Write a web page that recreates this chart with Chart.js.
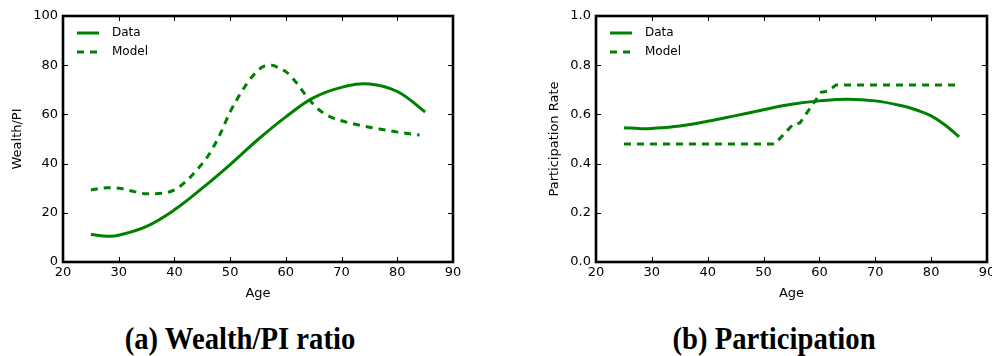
<!DOCTYPE html>
<html>
<head>
<meta charset="utf-8">
<script src="https://cdn.jsdelivr.net/npm/chart.js@4.4.0/dist/chart.umd.min.js"></script>
<style>
    html, body { margin: 0; padding: 0; background: #fff; width: 992px; height: 356px; overflow: hidden; }
    canvas { position: absolute; top: 0; }
    .caption {
        position: absolute; top: 322px; height: 34px; line-height: 34px;
        font: bold 28.7px "Liberation Serif", "Times New Roman", serif;
        text-align: center; color: #000; white-space: nowrap;
        transform: scaleY(1.08);
    }
</style>
</head>
<body>
<canvas id="wealth" width="490" height="310" style="left:0"></canvas>
<canvas id="part" width="500" height="310" style="left:520px"></canvas>
<div class="caption" style="left:120px;width:240px">(a) Wealth/PI ratio</div>
<div class="caption" style="left:654px;width:240px">(b) Participation</div>
<script>
// Wealth / permanent income by age
const wealthDataAges = [25, 28, 30, 35, 40, 45, 50, 55, 60, 65, 70, 75, 80, 85];
const wealthDataValues = [11.2, 10.5, 10.9, 14.5, 21.2, 30, 39.6, 49.8, 59, 66.8, 71, 72.4, 69.3, 61];
const wealthModelAges = [25, 28, 30, 33, 35, 38, 40, 42, 44, 46, 48, 50, 52, 54, 56, 57.5, 59, 60, 62, 64, 66, 68, 70, 72, 75, 78, 80, 84];
const wealthModelValues = [29.3, 30.2, 30, 28.5, 27.7, 28, 29.3, 32.6, 37.4, 43, 51, 61, 69, 75.5, 79.5, 80, 78.5, 77.4, 72.6, 66.5, 61.8, 59, 57.4, 56.2, 54.8, 53.6, 52.8, 51.6];

// Stock market participation rate by age
const partDataAges = [25, 28, 30, 35, 40, 45, 50, 55, 60, 65, 70, 75, 77.5, 80, 82.5, 85];
const partDataValues = [0.546, 0.542, 0.543, 0.553, 0.572, 0.595, 0.619, 0.641, 0.655, 0.662, 0.655, 0.634, 0.617, 0.594, 0.557, 0.509];
const partModelAges = [25, 52, 55.3, 56.5, 60.3, 61.5, 63, 85];
const partModelValues = [0.48, 0.48, 0.56, 0.565, 0.69, 0.695, 0.72, 0.72];

const seriesNames = ['Data', 'Model'];
const GREEN = '#008000';
const TICK_LEN = 5;

const points = (xs, ys) => xs.map((x, i) => ({ x: x, y: ys[i] }));

// inward ticks on all four sides, heavy frame, legend in the upper left
const framePlugin = {
    id: 'frame',
    afterDatasetsDraw(chart) {
        const { ctx, chartArea: a, scales: { x, y } } = chart;
        ctx.save();
        ctx.strokeStyle = '#000';
        ctx.lineWidth = 1;
        ctx.beginPath();
        x.ticks.forEach(t => {
            const px = Math.round(x.getPixelForValue(t.value)) + 0.5;
            ctx.moveTo(px, a.bottom); ctx.lineTo(px, a.bottom - TICK_LEN);
            ctx.moveTo(px, a.top); ctx.lineTo(px, a.top + TICK_LEN);
        });
        y.ticks.forEach(t => {
            const py = Math.round(y.getPixelForValue(t.value)) + 0.5;
            ctx.moveTo(a.left, py); ctx.lineTo(a.left + TICK_LEN, py);
            ctx.moveTo(a.right, py); ctx.lineTo(a.right - TICK_LEN, py);
        });
        ctx.stroke();
        ctx.lineWidth = 2.6;
        ctx.strokeRect(a.left, a.top, a.right - a.left, a.bottom - a.top);

        // legend
        ctx.font = '12px "DejaVu Sans"';
        ctx.textBaseline = 'middle';
        ctx.fillStyle = '#000';
        chart.data.datasets.forEach((ds, i) => {
            const ly = a.top + 17 + i * 19;
            ctx.strokeStyle = GREEN;
            ctx.lineWidth = 3;
            ctx.setLineDash(ds.borderDash || []);
            ctx.beginPath();
            ctx.moveTo(a.left + 14, ly);
            ctx.lineTo(a.left + 36, ly);
            ctx.stroke();
            ctx.setLineDash([]);
            ctx.fillText(ds.label, a.left + 49, ly);
        });
        ctx.restore();
    }
};

function makePanel(id, opts) {
    const font = { family: 'DejaVu Sans', size: 13 };
    return new Chart(document.getElementById(id), {
        type: 'line',
        data: {
            datasets: [
                {
                    label: seriesNames[0], data: opts.data,
                    borderColor: GREEN, borderWidth: 3, pointRadius: 0,
                    tension: 0.4, fill: false
                },
                {
                    label: seriesNames[1], data: opts.model,
                    borderColor: GREEN, borderWidth: 3, pointRadius: 0,
                    borderDash: [7, 6], borderCapStyle: 'butt',
                    cubicInterpolationMode: opts.modelMode, tension: 0, fill: false
                }
            ]
        },
        options: {
            responsive: false,
            animation: false,
            devicePixelRatio: 1,
            layout: { padding: { left: 0, top: 16, right: opts.padRight, bottom: 0 } },
            plugins: { legend: { display: false }, tooltip: { enabled: false } },
            scales: {
                x: {
                    type: 'linear', min: 20, max: 90,
                    grid: { display: false, drawTicks: false },
                    border: { display: false },
                    ticks: { stepSize: 10, color: '#000', font: font, padding: 3, maxRotation: 0 },
                    title: { display: true, text: 'Age', color: '#000', font: font, padding: { top: 0, bottom: 9 } },
                    afterFit: s => { s.height = 48; }
                },
                y: {
                    type: 'linear', min: opts.yMin, max: opts.yMax,
                    grid: { display: false, drawTicks: false },
                    border: { display: false },
                    ticks: { stepSize: opts.yStep, color: '#000', font: font, padding: 5, callback: opts.yFmt },
                    title: { display: true, text: opts.yTitle, color: '#000', font: font, padding: { top: opts.yTitlePad, bottom: 0 } },
                    afterFit: s => { s.width = opts.yWidth; }
                }
            }
        },
        plugins: [framePlugin]
    });
}

makePanel('wealth', {
    data: points(wealthDataAges, wealthDataValues),
    model: points(wealthModelAges, wealthModelValues),
    modelMode: 'monotone',
    yMin: 0, yMax: 100, yStep: 20, yFmt: v => v,
    yTitle: 'Wealth/PI', yTitlePad: 10,
    yWidth: 63, padRight: 37
});

makePanel('part', {
    data: points(partDataAges, partDataValues),
    model: points(partModelAges, partModelValues),
    modelMode: 'default',
    yMin: 0, yMax: 1, yStep: 0.2, yFmt: v => v.toFixed(1),
    yTitle: 'Participation Rate', yTitlePad: 27,
    yWidth: 76, padRight: 33
});
</script>
</body>
</html>
